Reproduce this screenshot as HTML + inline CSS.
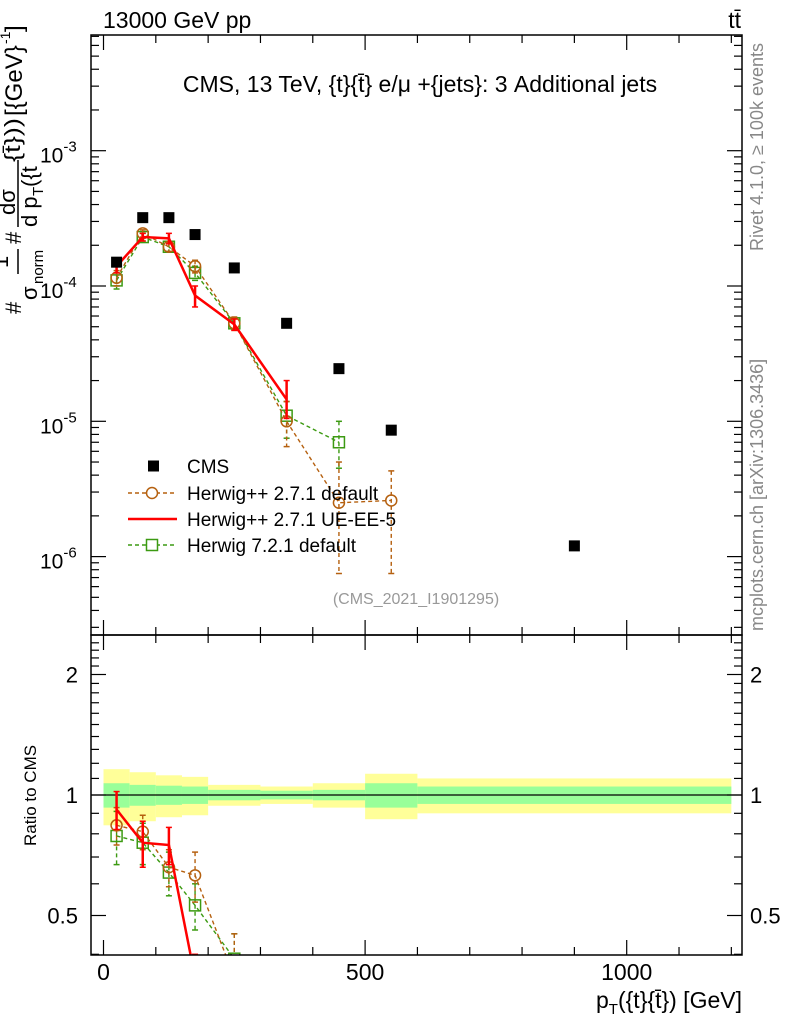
<!DOCTYPE html>
<html><head><meta charset="utf-8"><style>
body{margin:0;background:#fff;}
svg{display:block;font-family:"Liberation Sans",sans-serif;}
</style></head><body>
<svg id="c" width="786" height="1024" viewBox="0 0 786 1024" xmlns="http://www.w3.org/2000/svg">
<defs>
<clipPath id="cm"><rect x="91" y="35" width="651" height="600"/></clipPath>
<clipPath id="cr"><rect x="91" y="635" width="651" height="320"/></clipPath>
</defs>
<g id="bands" clip-path="url(#cr)"></g>
<g id="marks"></g>
<g id="axes"></g>
<text x="103" y="28" font-size="23">13000 GeV pp</text>
<text x="741" y="28" font-size="23" text-anchor="end">tt̄</text>
<text x="420" y="92" font-size="23" text-anchor="middle">CMS, 13 TeV, {t}{t̄} e/μ +{jets}: 3 Additional jets</text>
<text x="416" y="604" font-size="16" fill="#999" text-anchor="middle">(CMS_2021_I1901295)</text>
<text transform="translate(763,251) rotate(-90)" font-size="18" fill="#888">Rivet 4.1.0, ≥ 100k events</text>
<text transform="translate(763,631) rotate(-90)" font-size="18" fill="#888">mcplots.cern.ch [arXiv:1306.3436]</text>
<g transform="translate(0,320) rotate(-90)" font-size="22">
<text x="6" y="21">#</text>
<text x="52" y="8">1</text>
<line x1="46" y1="18" x2="71" y2="18" stroke="#000" stroke-width="1.5"/>
<text x="20" y="37">σ</text><text x="36" y="43" font-size="15">norm</text>
<text x="76" y="21">#</text>
<text x="105" y="15">dσ</text>
<line x1="93" y1="18" x2="160" y2="18" stroke="#000" stroke-width="1.5"/>
<text x="93" y="37">d p</text><text x="124" y="43" font-size="15">T</text><text x="133" y="37">({t</text>
<text x="158" y="20" textLength="44" lengthAdjust="spacingAndGlyphs">{t̄}))</text>
<text x="204" y="22" font-size="24">[{GeV}</text><text x="276" y="10" font-size="14">-1</text><text x="288" y="22" font-size="24">]</text>
</g>
<text transform="translate(36,846) rotate(-90)" font-size="17">Ratio to CMS</text>
<text x="742" y="1008" font-size="23" text-anchor="end">p<tspan font-size="15" dy="6">T</tspan><tspan dy="-6">({t}{t̄}) [GeV]</tspan></text>
<g id="legend"></g>
</svg>
<script>
const cats=[25,75,125,175,250,350,450,550,900];
const binLo=[0,50,100,150,200,300,400,500,600];
const binHi=[50,100,150,200,300,400,500,600,1200];
const cmsVals=[1.5e-4,3.2e-4,3.2e-4,2.4e-4,1.36e-4,5.3e-5,2.45e-5,8.6e-6,1.2e-6];
const h271x=[25,75,125,175,250,350,450,550];
const h271Vals=[1.15e-4,2.45e-4,1.95e-4,1.4e-4,5.3e-5,1.0e-5,2.5e-6,2.6e-6];
const h271Up=[1.3e-4,2.6e-4,2.1e-4,1.55e-4,5.9e-5,1.4e-5,5.0e-6,4.3e-6];
const h271Dn=[1.0e-4,2.3e-4,1.8e-4,1.25e-4,4.7e-5,6.5e-6,7.5e-7,7.5e-7];
const ueX=[25,75,125,175,250,350];
const ueVals=[1.4e-4,2.3e-4,2.25e-4,8.5e-5,5.2e-5,1.45e-5];
const ueUp=[1.55e-4,2.45e-4,2.45e-4,1.0e-4,5.7e-5,2.0e-5];
const ueDn=[1.25e-4,2.15e-4,2.05e-4,7.0e-5,4.7e-5,1.05e-5];
const h721x=[25,75,125,175,250,350,450];
const h721Vals=[1.1e-4,2.3e-4,1.95e-4,1.25e-4,5.3e-5,1.1e-5,7.0e-6];
const h721Up=[1.25e-4,2.45e-4,2.1e-4,1.4e-4,5.8e-5,1.4e-5,1.0e-5];
const h721Dn=[9.5e-5,2.15e-4,1.8e-4,1.1e-4,4.8e-5,7.5e-6,4.5e-6];
const rH271=[0.84,0.81,0.66,0.63,0.35];
const rH271Err=[0.09,0.08,0.07,0.09,0.1];
const rUE=[0.92,0.76,0.75,0.35];
const rUEErr=[0.1,0.1,0.08,0.05];
const rH721=[0.79,0.76,0.64,0.53,0.39];
const rH721Err=[0.12,0.09,0.08,0.07,0.06];
const statErr=[0.07,0.06,0.055,0.05,0.03,0.025,0.03,0.07,0.05];
const totErr=[0.16,0.14,0.12,0.11,0.06,0.05,0.07,0.13,0.1];
const xTicks=[0,500,1000];
const yTickExp=[-6,-5,-4,-3];
const rTicks=[0.5,1,2];

const NS="http://www.w3.org/2000/svg";
const X=v=>103.5+v*0.5232;
const Y=v=>286-135.3*(Math.log10(v)+4);
const R=r=>795-120.5*Math.log2(r);
function mk(tag,attrs,parent){const e=document.createElementNS(NS,tag);for(const k in attrs)e.setAttribute(k,attrs[k]);parent.appendChild(e);return e;}
const axes=document.getElementById('axes'),marks=document.getElementById('marks'),bands=document.getElementById('bands'),leg=document.getElementById('legend');
const L=91,Rr=742,T=35,M=635,B=955;
for(let i=0;i<binLo.length;i++){
 const y=mk('rect',{x:X(binLo[i]),y:R(1+totErr[i]),width:X(binHi[i])-X(binLo[i]),height:R(1-totErr[i])-R(1+totErr[i]),fill:'#ffff99'},bands);
 
 
 const g=mk('rect',{x:X(binLo[i]),y:R(1+statErr[i]),width:X(binHi[i])-X(binLo[i]),height:R(1-statErr[i])-R(1+statErr[i]),fill:'#99ff99'},bands);
 
 
}
const one=mk('line',{x1:L,x2:Rr,y1:R(1),y2:R(1),stroke:'#000','stroke-width':1.3},bands);


for(const [y1,y2] of [[T,M],[M,B]]){
 const f=mk('rect',{x:L,y:y1,width:Rr-L,height:y2-y1,fill:'none',stroke:'#000','stroke-width':1.5},axes);
 
 
}
for(let v=0;v<=1200;v+=100){
 const len=v%500===0?15:8;
 for(const [yb,yt] of [[M,T],[B,M]]){
  mk('line',{x1:X(v),x2:X(v),y1:yb,y2:yb-len,stroke:'#000','stroke-width':1.2},axes);
  mk('line',{x1:X(v),x2:X(v),y1:yt,y2:yt+len,stroke:'#000','stroke-width':1.2},axes);
 }
}
xTicks.forEach(v=>{const t=mk('text',{x:X(v),y:980,'font-size':23,'text-anchor':'middle'},axes);t.textContent=v;
 
 });
for(let e=-7;e<=-2;e++){for(let m=1;m<10;m++){const v=m*Math.pow(10,e);const y=Y(v);if(y<T||y>M)continue;const len=m===1?15:8;
 mk('line',{x1:L,x2:L+len,y1:y,y2:y,stroke:'#000','stroke-width':1.2},axes);
 mk('line',{x1:Rr,x2:Rr-len,y1:y,y2:y,stroke:'#000','stroke-width':1.2},axes);}}
yTickExp.forEach(e=>{const t=mk('text',{x:40,y:Y(Math.pow(10,e))+12,'font-size':21},axes);
 t.innerHTML='10<tspan font-size="15" dy="-11">'+e+'</tspan>';
 
 });
for(let r=0.4;r<=2.5;r+=0.1){const y=R(r);if(y<M||y>B)continue;const maj=[0.5,1,2].some(q=>Math.abs(q-r)<1e-6);const len=maj?15:8;
 mk('line',{x1:L,x2:L+len,y1:y,y2:y,stroke:'#000','stroke-width':1.2},axes);
 mk('line',{x1:Rr,x2:Rr-len,y1:y,y2:y,stroke:'#000','stroke-width':1.2},axes);}
rTicks.forEach(r=>{for(const [x,a] of [[78,'end'],[750,'start']]){const t=mk('text',{x:x,y:R(r)+8,'font-size':22,'text-anchor':a},axes);t.textContent=r;
 
 }});
function series(xs,vals,up,dn,yf,color,dash,marker,clip,name){
 const g=mk('g',{'clip-path':'url(#'+clip+')'},marks);
 
 
 const pts=xs.map((x,i)=>X(x)+','+yf(vals[i])).join(' ');
 mk('polyline',{points:pts,fill:'none',stroke:color,'stroke-width':marker==='none'?2.5:1.4,'stroke-dasharray':dash},g);
 xs.forEach((x,i)=>{const cx=X(x),yu=yf(up[i]),yd=yf(dn[i]);
  mk('line',{x1:cx,x2:cx,y1:yu,y2:yd,stroke:color,'stroke-width':marker==='none'?2.5:1.4,'stroke-dasharray':dash},g);
  mk('line',{x1:cx-3,x2:cx+3,y1:yu,y2:yu,stroke:color,'stroke-width':1.5},g);
  mk('line',{x1:cx-3,x2:cx+3,y1:yd,y2:yd,stroke:color,'stroke-width':1.5},g);
  const cy=yf(vals[i]);
  let m=null;
  if(marker==='circle')m=mk('circle',{cx:cx,cy:cy,r:5.5,fill:'none',stroke:color,'stroke-width':1.5},g);
  if(marker==='square')m=mk('rect',{x:cx-5.5,y:cy-5.5,width:11,height:11,fill:'none',stroke:color,'stroke-width':1.5},g);
  if(m){
  }
 });
}
const BR='#b5600f',GR='#3c9a12',RD='#ff0000';
series(h721x,h721Vals,h721Up,h721Dn,Y,GR,'4,3','square','cm','herwig-721-series');
series(h271x,h271Vals,h271Up,h271Dn,Y,BR,'4,3','circle','cm','herwig-271-default-series');
series(ueX,ueVals,ueUp,ueDn,Y,RD,'','none','cm','herwig-271-ue-ee5-series');
cats.forEach((c,i)=>{const s=mk('rect',{x:X(c)-5.5,y:Y(cmsVals[i])-5.5,width:11,height:11,fill:'#000'},marks);
 
 });
const rx5=cats.slice(0,5);
series(rx5,rH721,rH721.map((v,i)=>v+rH721Err[i]),rH721.map((v,i)=>v-rH721Err[i]),R,GR,'4,3','square','cr','ratio-herwig-721');
series(rx5,rH271,rH271.map((v,i)=>v+rH271Err[i]),rH271.map((v,i)=>v-rH271Err[i]),R,BR,'4,3','circle','cr','ratio-herwig-271-default');
series(cats.slice(0,4),rUE,rUE.map((v,i)=>v+rUEErr[i]),rUE.map((v,i)=>v-rUEErr[i]),R,RD,'','none','cr','ratio-herwig-271-ue-ee5');
const ly=[466,493,519,545],lab=['CMS','Herwig++ 2.7.1 default','Herwig++ 2.7.1 UE-EE-5','Herwig 7.2.1 default'];
const cms=mk('rect',{x:148,y:ly[0]-5.5,width:11,height:11,fill:'#000'},leg);


mk('line',{x1:128,x2:175,y1:ly[1],y2:ly[1],stroke:BR,'stroke-width':1.4,'stroke-dasharray':'4,3'},leg);
mk('circle',{cx:152,cy:ly[1],r:5.5,fill:'#fff',stroke:BR,'stroke-width':1.5},leg);
mk('line',{x1:128,x2:177,y1:ly[2],y2:ly[2],stroke:RD,'stroke-width':2.5},leg);
mk('line',{x1:128,x2:175,y1:ly[3],y2:ly[3],stroke:GR,'stroke-width':1.4,'stroke-dasharray':'4,3'},leg);
mk('rect',{x:146.5,y:ly[3]-5.5,width:11,height:11,fill:'#fff',stroke:GR,'stroke-width':1.5},leg);
lab.forEach((s,i)=>{const t=mk('text',{x:187,y:ly[i]+7,'font-size':19},leg);t.textContent=s;
 
 });
</script>
</body></html>
